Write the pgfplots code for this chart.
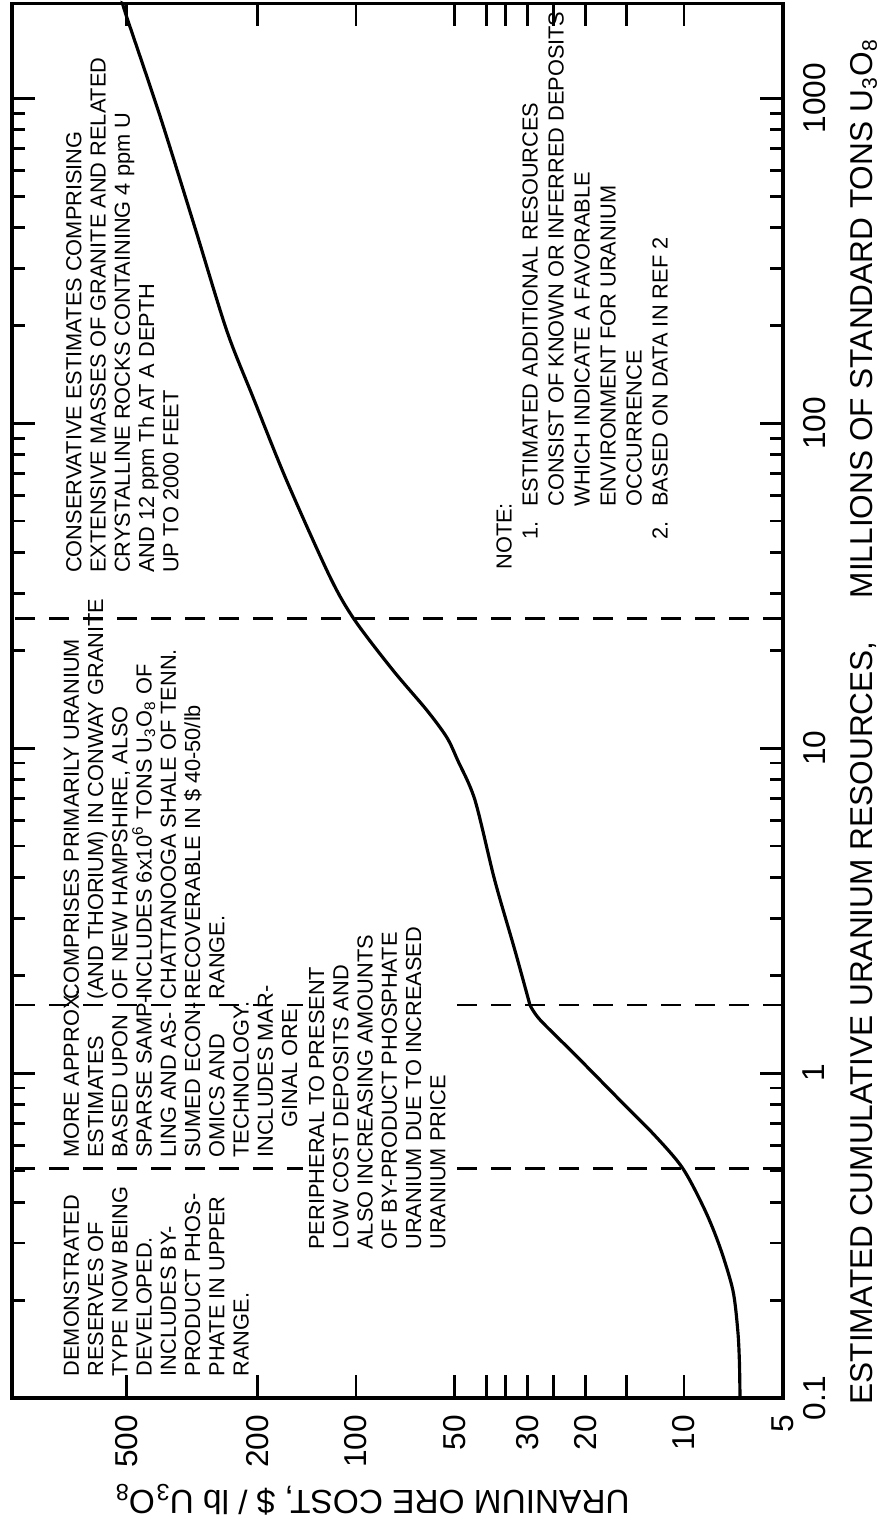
\documentclass[border=0pt]{standalone}
\usepackage{fontspec}
\setmainfont{Liberation Sans}
\usepackage{pgfplots}
\pgfplotsset{compat=1.18}
\newcommand{\blockfont}{\fontsize{6.2}{6.9}\selectfont}
\newcommand{\uo}{U\textsubscript{3}O\textsubscript{8}}
\begin{document}
\begin{tikzpicture}
\begin{scope}[rotate=90, transform shape]
\begin{axis}[
  scale only axis, width=139.5mm, height=77.1mm,
  xmode=log, ymode=log,
  xmin=0.1, xmax=1960, ymin=5, ymax=1120,
  axis line style={line width=1pt},
  clip=false,
  xtick={0.1,1,10,100,1000},
  xticklabels={0.1,1,10,100,1000},
  minor xtick={0.2,0.3,0.4,0.5,0.6,0.7,0.8,0.9,2,3,4,5,6,7,8,9,20,30,40,50,60,70,80,90,200,300,400,500,600,700,800,900},
  ytick={5,10,15,20,25,30,35,40,50,100,200,500},
  yticklabels={5,10,{},20,{},30,{},{},50,100,200,500},
  tick align=inside,
  major tick length=2.3mm, minor tick length=1.3mm,
  every tick/.style={black, line width=0.8pt},
  ticklabel style={font=\fontsize{9}{10}\selectfont},
  xticklabel style={yshift=-0.8mm},
  yticklabel style={xshift=-0.45mm},
  xlabel={ESTIMATED CUMULATIVE URANIUM RESOURCES,\hspace{4.3mm}MILLIONS OF STANDARD TONS \uo},
  xlabel style={at={(axis description cs:-0.005,-0.117)}, anchor=base west, inner sep=0pt, font=\fontsize{9}{10}\selectfont},
  ylabel={URANIUM ORE COST, \$ / lb \uo},
  ylabel style={at={(axis description cs:-0.066,0.533)}, anchor=base, inner sep=0pt, font=\fontsize{9.5}{11}\selectfont},
]
% dashed boundaries
\addplot[line width=0.8pt, dash pattern=on 2mm off 1.4mm] coordinates {(0.51,5) (0.51,1120)};
\addplot[line width=0.8pt, dash pattern=on 2mm off 1.4mm] coordinates {(1.62,5) (1.62,1120)};
\addplot[line width=0.8pt, dash pattern=on 2mm off 1.4mm] coordinates {(25,5) (25,1120)};
% cost curve
\addplot[line width=0.9pt, smooth, tension=0.5] coordinates {
 (0.1,6.75) (0.13,6.78) (0.162,6.86) (0.215,7.10) (0.292,7.78) (0.38,8.65)
 (0.51,10.1) (0.644,12.3) (0.826,15.7) (1.14,21.5) (1.46,27.5) (1.62,29.5)};
\addplot[line width=0.9pt, smooth, tension=0.5] coordinates {
 (1.62,29.5) (2.39,32.8) (3.93,37.8) (6.92,43.4) (9.18,49.0) (10.8,52.9)
 (13.1,60.9) (17.4,77.3) (24.8,101) (33.6,120) (66.8,163) (120,206)
 (193,248) (400,310) (874,395) (1775,500) (1960,515)};
% annotations
\node[anchor=north west, inner sep=0pt, align=left, font=\blockfont] at (axis cs:0.116,783)
 {DEMONSTRATED\\RESERVES OF\\TYPE NOW BEING\\DEVELOPED.\\INCLUDES BY-\\PRODUCT PHOS-\\PHATE IN UPPER\\RANGE.};
\node[anchor=north west, inner sep=0pt, align=left, font=\blockfont] at (axis cs:0.547,783)
 {MORE APPROX.\\ESTIMATES\\BASED UPON\\SPARSE SAMP-\\LING AND AS-\\SUMED ECON-\\OMICS AND\\TECHNOLOGY.\\INCLUDES MAR-\\\hspace{3mm}GINAL ORE};
\node[anchor=north west, inner sep=0pt, align=left, font=\blockfont] at (axis cs:1.68,783)
 {COMPRISES PRIMARILY URANIUM\\(AND THORIUM) IN CONWAY GRANITE\\OF NEW HAMPSHIRE, ALSO\\INCLUDES 6x10\textsuperscript{6} TONS \uo{} OF\\CHATTANOOGA SHALE OF TENN.\\RECOVERABLE IN \$ 40-50/lb\\RANGE.};
\node[anchor=north west, fill=white, inner xsep=1mm, inner ysep=0.6mm, xshift=-1mm, yshift=0.6mm, align=left, font=\blockfont] at (axis cs:0.285,140)
 {PERIPHERAL TO PRESENT\\LOW COST DEPOSITS AND\\ALSO INCREASING AMOUNTS\\OF BY-PRODUCT PHOSPHATE\\URANIUM DUE TO INCREASED\\URANIUM PRICE};
\node[anchor=north west, inner sep=0pt, align=left, font=\blockfont] at (axis cs:34.5,770)
 {CONSERVATIVE ESTIMATES COMPRISING\\EXTENSIVE MASSES OF GRANITE AND RELATED\\CRYSTALLINE ROCKS CONTAINING 4 ppm U\\AND 12 ppm Th AT A DEPTH\\UP TO 2000 FEET};
\node[anchor=north west, inner sep=0pt, font=\fontsize{6.2}{7.4}\selectfont] at (axis cs:35.3,38.3)
 {\begin{tabular}{@{}l@{}l@{}}
  \multicolumn{2}{@{}l@{}}{NOTE:}\\
  \makebox[6.3mm][l]{\hspace{3mm}1.} & ESTIMATED ADDITIONAL RESOURCES\\
  & CONSIST OF KNOWN OR INFERRED DEPOSITS\\
  & WHICH INDICATE A FAVORABLE\\
  & ENVIRONMENT FOR URANIUM\\
  & OCCURRENCE\\
  \makebox[6.3mm][l]{\hspace{3mm}2.} & BASED ON DATA IN REF 2
 \end{tabular}};
\end{axis}
\path (current axis.south west) ++(-13.2mm,-9.9mm) coordinate (bbl);
\path (current axis.north east) ++(0.3mm,1.2mm) coordinate (btr);
\path (bbl) rectangle (btr);
\end{scope}
\end{tikzpicture}
\end{document}
